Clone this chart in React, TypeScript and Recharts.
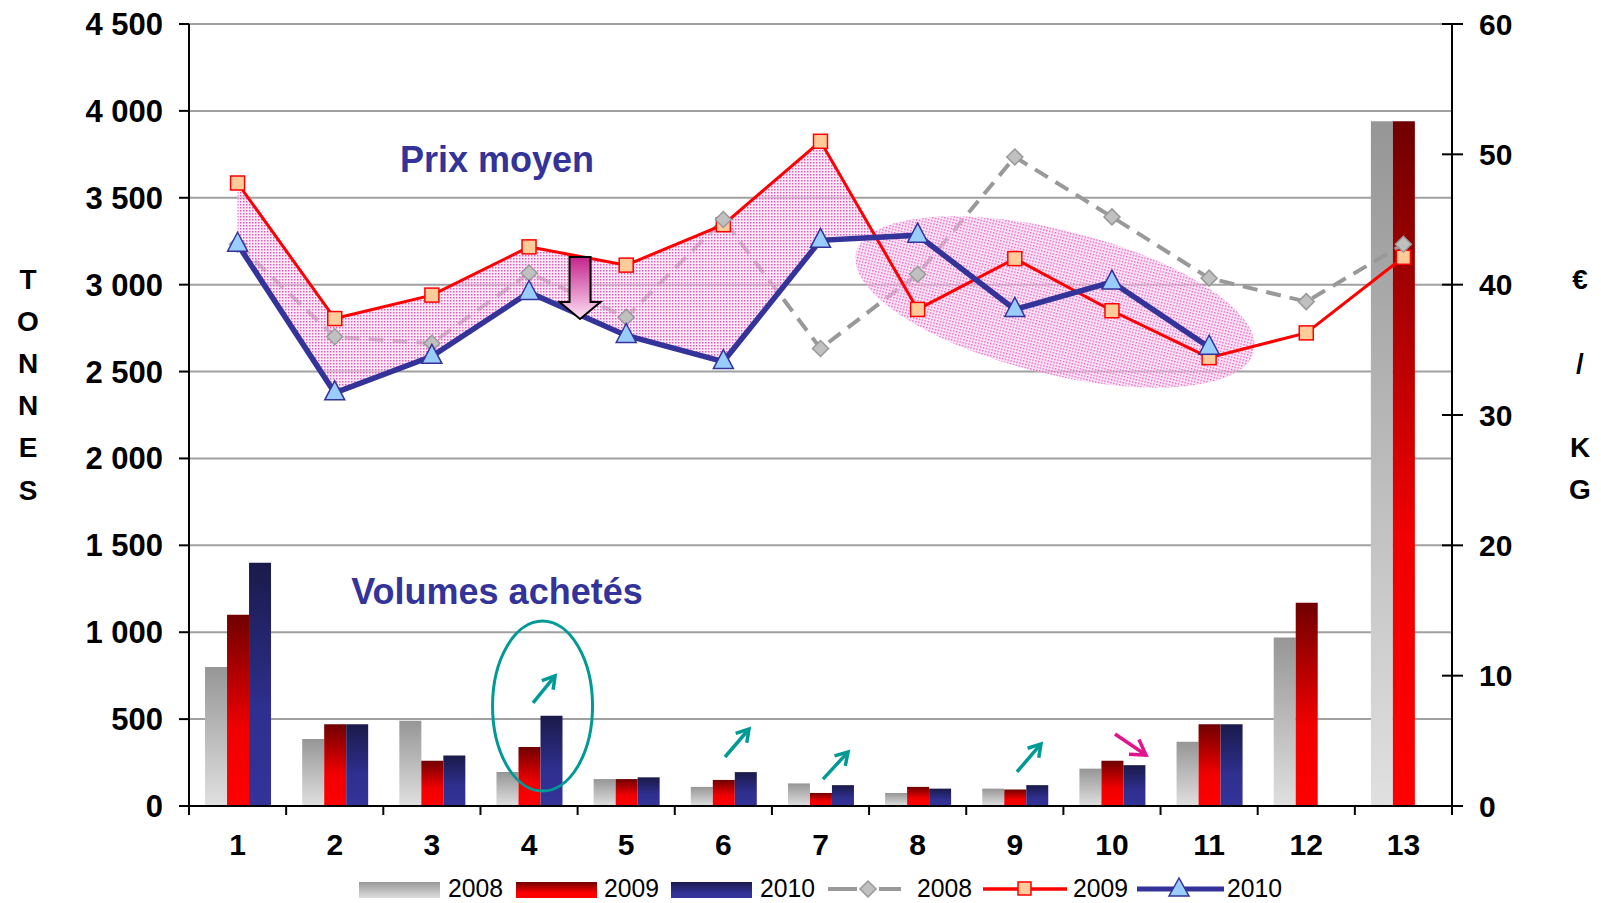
import React from "react";
import {
  ComposedChart,
  Bar,
  Line,
  Area,
  XAxis,
  YAxis,
  CartesianGrid,
  ReferenceDot,
} from "recharts";

const cats = ["1", "2", "3", "4", "5", "6", "7", "8", "9", "10", "11", "12", "13"];

// tonnes achetées
const vol2008 = [800, 385, 490, 195, 155, 110, 130, 75, 100, 215, 370, 970, 3940];
const vol2009 = [1100, 470, 260, 340, 155, 150, 75, 110, 95, 260, 470, 1170, 3940];
const vol2010 = [1400, 470, 290, 520, 165, 195, 120, 100, 120, 235, 470, null, null];

// prix moyen €/kg
const price2008 = [43.1, 36.0, 35.5, 40.9, 37.5, 45.0, 35.1, 40.8, 49.8, 45.2, 40.5, 38.7, 43.1];
const price2009 = [47.8, 37.4, 39.2, 42.9, 41.5, 44.6, 51.0, 38.1, 42.0, 38.0, 34.4, 36.3, 42.1];
const price2010 = [43.1, 31.7, 34.5, 39.4, 36.1, 34.1, 43.4, 43.8, 38.1, 40.2, 35.2, null, null];

const tonneTicks = [0, 500, 1000, 1500, 2000, 2500, 3000, 3500, 4000, 4500];
const euroTicks = [0, 10, 20, 30, 40, 50, 60];
const xTicks = [0.5, ...cats.flatMap((_, i) => [i + 1, i + 1.5])];

const rows = cats.map((c, i) => ({
  cat: c,
  x: i + 1,
  v2008: vol2008[i],
  v2009: vol2009[i],
  v2010: vol2010[i],
  p2008: price2008[i],
  p2009: price2009[i],
  p2010: price2010[i],
}));

// shaded band between 2009 and 2010 prices, up to where they cross after cat 7
const bandRows: { x: number; band: number[] }[] = cats
  .slice(0, 7)
  .map((_, i) => ({ x: i + 1, band: [price2010[i] as number, price2009[i]] }));
{
  const d7 = price2009[6] - (price2010[6] as number);
  const d8 = price2009[7] - (price2010[7] as number);
  const t = d7 / (d7 - d8);
  const yc = (price2010[6] as number) + t * ((price2010[7] as number) - (price2010[6] as number));
  bandRows.push({ x: 7 + t, band: [yc, yc] });
}

const FONT = "'Liberation Sans', Arial, Helvetica, sans-serif";
const NAVY = "#333399";
const TEAL = "#009a96";
const MAGENTA = "#e0158c";

const fmtTonnes = (v: number) =>
  v >= 1000 ? `${Math.floor(v / 1000)} ${String(v % 1000).padStart(3, "0")}` : String(v);

function XTick(props: any) {
  const { x, y, payload } = props;
  const v = payload.value as number;
  if (v % 1 !== 0) {
    return <line x1={x} y1={y} x2={x} y2={y + 9} stroke="#000" strokeWidth={2} />;
  }
  return (
    <text
      x={x}
      y={y + 38}
      textAnchor="middle"
      dominantBaseline="central"
      fontFamily={FONT}
      fontWeight="bold"
      fontSize={30}
      fill="#000"
    >
      {v}
    </text>
  );
}

function RightTick(props: any) {
  const { x, y, payload } = props;
  return (
    <g>
      <line x1={x - 10} y1={y} x2={x + 11} y2={y} stroke="#000" strokeWidth={2} />
      <text
        x={x + 27}
        y={y}
        textAnchor="start"
        dominantBaseline="central"
        fontFamily={FONT}
        fontWeight="bold"
        fontSize={30}
        fill="#000"
      >
        {payload.value}
      </text>
    </g>
  );
}

function SquareDot(p: any) {
  if (p.cy == null || p.value == null) return <g key={`s${p.index}`} />;
  return (
    <rect
      key={`s${p.index}`}
      x={p.cx - 7}
      y={p.cy - 7}
      width={14}
      height={14}
      fill="#ffcc99"
      stroke="#ff0000"
      strokeWidth={1.5}
    />
  );
}

function TriDot(p: any) {
  if (p.cy == null || p.value == null) return <g key={`t${p.index}`} />;
  const { cx, cy } = p;
  return (
    <polygon
      key={`t${p.index}`}
      points={`${cx},${cy - 12} ${cx - 10},${cy + 7} ${cx + 10},${cy + 7}`}
      fill="#99ccff"
      stroke={NAVY}
      strokeWidth={1.5}
    />
  );
}

function DiamondDot(p: any) {
  if (p.cy == null || p.value == null) return <g key={`d${p.index}`} />;
  const { cx, cy } = p;
  return (
    <polygon
      key={`d${p.index}`}
      points={`${cx},${cy - 8} ${cx + 8},${cy} ${cx},${cy + 8} ${cx - 8},${cy}`}
      fill="#c0c0c0"
      stroke="#999999"
      strokeWidth={1.5}
    />
  );
}

function arrowShape(dx: number, dy: number, color: string, head: number) {
  return (p: any) => {
    const { cx, cy } = p;
    const tx = cx + dx;
    const ty = cy + dy;
    const len = Math.hypot(dx, dy);
    const ux = dx / len;
    const uy = dy / len;
    const wing = (a: number) => {
      const c = Math.cos(a);
      const s = Math.sin(a);
      return [tx - head * (ux * c - uy * s), ty - head * (ux * s + uy * c)];
    };
    const [ax, ay] = wing(0.55);
    const [bx, by] = wing(-0.55);
    return (
      <g stroke={color} strokeWidth={3.5} fill="none" strokeLinecap="butt">
        <line x1={cx} y1={cy} x2={tx} y2={ty} />
        <polyline points={`${ax},${ay} ${tx},${ty} ${bx},${by}`} />
      </g>
    );
  };
}

function textShape(label: string) {
  return (p: any) => (
    <text
      x={p.cx}
      y={p.cy}
      textAnchor="middle"
      dominantBaseline="central"
      fontFamily={FONT}
      fontWeight="bold"
      fontSize={36}
      fill={NAVY}
    >
      {label}
    </text>
  );
}

const pinkEllipse = (p: any) => (
  <ellipse
    cx={p.cx}
    cy={p.cy}
    rx={205}
    ry={72}
    transform={`rotate(14 ${p.cx} ${p.cy})`}
    fill="url(#dots)"
  />
);

const tealEllipse = (p: any) => (
  <ellipse cx={p.cx} cy={p.cy} rx={50} ry={85} fill="none" stroke={TEAL} strokeWidth={3} />
);

const downArrow = (p: any) => {
  const { cx, cy } = p;
  const pts = [
    [cx - 10.5, cy],
    [cx + 10.5, cy],
    [cx + 10.5, cy + 45],
    [cx + 20.5, cy + 45],
    [cx, cy + 62],
    [cx - 20.5, cy + 45],
    [cx - 10.5, cy + 45],
  ]
    .map((q) => q.join(","))
    .join(" ");
  return <polygon points={pts} fill="url(#garrow)" stroke="#000" strokeWidth={2} />;
};

function Legend() {
  const txt = (x: number, s: string) => (
    <text
      x={x}
      y={897}
      fontFamily={FONT}
      fontSize={26}
      fill="#000"
      textLength={55}
      lengthAdjust="spacingAndGlyphs"
    >
      {s}
    </text>
  );
  return (
    <g>
      <defs>
        <linearGradient id="lg08" x1="0" y1="0" x2="0" y2="1">
          <stop offset="0%" stopColor="#999999" />
          <stop offset="100%" stopColor="#dddddd" />
        </linearGradient>
        <linearGradient id="lg09" x1="0" y1="0" x2="0" y2="1">
          <stop offset="0%" stopColor="#700000" />
          <stop offset="70%" stopColor="#ff0000" />
          <stop offset="100%" stopColor="#ff0000" />
        </linearGradient>
        <linearGradient id="lg10" x1="0" y1="0" x2="0" y2="1">
          <stop offset="0%" stopColor="#1a1a4a" />
          <stop offset="70%" stopColor="#333399" />
          <stop offset="100%" stopColor="#333399" />
        </linearGradient>
      </defs>
      <rect x={359} y={882} width={81} height={16} fill="url(#lg08)" />
      {txt(448, "2008")}
      <rect x={516} y={882} width={81} height={16} fill="url(#lg09)" />
      {txt(604, "2009")}
      <rect x={671} y={882} width={81} height={16} fill="url(#lg10)" />
      {txt(760, "2010")}

      <line x1={828} y1={889} x2={857} y2={889} stroke="#999999" strokeWidth={4} />
      <line x1={879} y1={889} x2={901} y2={889} stroke="#999999" strokeWidth={4} />
      <polygon points="868,881 876,889 868,897 860,889" fill="#c0c0c0" stroke="#999999" strokeWidth={1.5} />
      {txt(917, "2008")}

      <line x1={983} y1={889} x2={1067} y2={889} stroke="#ff0000" strokeWidth={3.5} />
      <rect x={1018} y={882} width={13} height={13} fill="#ffcc99" stroke="#ff0000" strokeWidth={1.5} />
      {txt(1073, "2009")}

      <line x1={1137} y1={889} x2={1224} y2={889} stroke={NAVY} strokeWidth={5} />
      <polygon points="1179,878 1169,896 1189,896" fill="#99ccff" stroke={NAVY} strokeWidth={1.5} />
      {txt(1227, "2010")}
    </g>
  );
}

function AxisTitles() {
  const left = ["T", "O", "N", "N", "E", "S"];
  const right = ["€", "", "/", "", "K", "G"];
  const style = { fontFamily: FONT, fontWeight: "bold" as const, fontSize: 28, fill: "#000" };
  return (
    <g>
      {left.map((c, i) => (
        <text key={`l${i}`} x={28} y={279 + i * 42.2} textAnchor="middle" dominantBaseline="central" {...style}>
          {c}
        </text>
      ))}
      {right.map((c, i) => (
        <text key={`r${i}`} x={1580} y={279 + i * 42} textAnchor="middle" dominantBaseline="central" {...style}>
          {c}
        </text>
      ))}
    </g>
  );
}

export default function App() {
  const W = 1601;
  const H = 903;
  return (
    <div style={{ position: "absolute", left: 0, top: 0, width: W, height: H, background: "#fff", overflow: "hidden" }}>
      <ComposedChart
        width={W}
        height={H}
        data={rows}
        margin={{ top: 24, right: 0, bottom: 0, left: 69 }}
        barCategoryGap="16.5%"
        barGap={0}
      >
        <defs>
          <linearGradient id="g08" x1="0" y1="0" x2="0" y2="1">
            <stop offset="0%" stopColor="#969696" />
            <stop offset="100%" stopColor="#e0e0e0" />
          </linearGradient>
          <linearGradient id="g09" x1="0" y1="0" x2="0" y2="1">
            <stop offset="0%" stopColor="#700000" />
            <stop offset="60%" stopColor="#f00000" />
            <stop offset="100%" stopColor="#ff0000" />
          </linearGradient>
          <linearGradient id="g10" x1="0" y1="0" x2="0" y2="1">
            <stop offset="0%" stopColor="#1a1a4a" />
            <stop offset="60%" stopColor="#2f2f8f" />
            <stop offset="100%" stopColor="#333399" />
          </linearGradient>
          <linearGradient id="garrow" x1="0" y1="0" x2="0" y2="1">
            <stop offset="0%" stopColor="#c4248c" />
            <stop offset="100%" stopColor="#fde2f5" />
          </linearGradient>
          <pattern id="dots" width="3" height="3" patternUnits="userSpaceOnUse">
            <rect width="3" height="3" fill="#fbdcf2" fillOpacity={0.55} />
            <rect width="1.5" height="1.5" fill="#e458c2" />
          </pattern>
        </defs>

        <CartesianGrid yAxisId="l" vertical={false} stroke="#a0a0a0" strokeWidth={2} zIndex={-100} />

        <XAxis
          xAxisId="num"
          dataKey="x"
          type="number"
          domain={[0.5, 13.5]}
          ticks={xTicks}
          interval={0}
          allowDataOverflow
          height={97}
          tickLine={false}
          tickSize={0}
          tickMargin={0}
          axisLine={{ stroke: "#000", strokeWidth: 2 }}
          tick={<XTick />}
        />
        <XAxis dataKey="cat" hide height={0} />
        <YAxis
          yAxisId="l"
          domain={[0, 4500]}
          ticks={tonneTicks}
          interval={0}
          width={120}
          tickSize={10}
          tickMargin={16}
          tickFormatter={fmtTonnes}
          axisLine={{ stroke: "#000", strokeWidth: 2 }}
          tickLine={{ stroke: "#000", strokeWidth: 2 }}
          tick={{ fontFamily: FONT, fontWeight: "bold", fontSize: 31, fill: "#000" }}
        />
        <YAxis
          yAxisId="r"
          orientation="right"
          domain={[0, 60]}
          ticks={euroTicks}
          interval={0}
          width={149}
          tickSize={0}
          tickMargin={0}
          tickLine={false}
          axisLine={{ stroke: "#000", strokeWidth: 2 }}
          tick={<RightTick />}
        />

        <Bar yAxisId="l" dataKey="v2008" fill="url(#g08)" isAnimationActive={false} zIndex={50} />
        <Bar yAxisId="l" dataKey="v2009" fill="url(#g09)" isAnimationActive={false} zIndex={50} />
        <Bar yAxisId="l" dataKey="v2010" fill="url(#g10)" isAnimationActive={false} zIndex={50} />

        <Line
          yAxisId="r"
          type="linear"
          dataKey="p2008"
          stroke="#999999"
          strokeWidth={4}
          strokeDasharray="15 9"
          dot={DiamondDot}
          activeDot={false}
          isAnimationActive={false}
          zIndex={90}
        />

        <Area
          xAxisId="num"
          yAxisId="r"
          data={bandRows}
          dataKey="band"
          type="linear"
          stroke="none"
          fill="url(#dots)"
          fillOpacity={1}
          dot={false}
          activeDot={false}
          isAnimationActive={false}
          zIndex={100}
        />

        <ReferenceDot xAxisId="num" yAxisId="r" x={9.414} y={38.67} r={1} shape={pinkEllipse} zIndex={110} />

        <Line
          yAxisId="r"
          type="linear"
          dataKey="p2009"
          stroke="#ff0000"
          strokeWidth={3}
          dot={SquareDot}
          activeDot={false}
          isAnimationActive={false}
          zIndex={400}
        />
        <Line
          yAxisId="r"
          type="linear"
          dataKey="p2010"
          stroke={NAVY}
          strokeWidth={5.5}
          dot={TriDot}
          activeDot={false}
          isAnimationActive={false}
          zIndex={410}
        />

        <ReferenceDot xAxisId="num" yAxisId="r" x={4.525} y={42.12} r={1} shape={downArrow} zIndex={600} />
        <ReferenceDot xAxisId="num" yAxisId="r" x={3.67} y={49.64} r={1} shape={textShape("Prix moyen")} zIndex={600} />
        <ReferenceDot xAxisId="num" yAxisId="l" x={3.67} y={1237} r={1} shape={textShape("Volumes achetés")} zIndex={600} />
        <ReferenceDot xAxisId="num" yAxisId="l" x={4.139} y={575} r={1} shape={tealEllipse} zIndex={600} />
        <ReferenceDot xAxisId="num" yAxisId="l" x={4.041} y={593} r={1} shape={arrowShape(22, -27, TEAL, 14)} zIndex={600} />
        <ReferenceDot xAxisId="num" yAxisId="l" x={6.017} y={282} r={1} shape={arrowShape(24, -28, TEAL, 14)} zIndex={600} />
        <ReferenceDot xAxisId="num" yAxisId="l" x={7.026} y={155} r={1} shape={arrowShape(25, -27, TEAL, 14)} zIndex={600} />
        <ReferenceDot xAxisId="num" yAxisId="l" x={9.022} y={196} r={1} shape={arrowShape(24, -28, TEAL, 14)} zIndex={600} />
        <ReferenceDot xAxisId="num" yAxisId="l" x={10.031} y={414} r={1} shape={arrowShape(31, 21, MAGENTA, 17)} zIndex={600} />
      </ComposedChart>
      <svg
        width={W}
        height={H}
        style={{ position: "absolute", left: 0, top: 0, pointerEvents: "none" }}
      >
        <AxisTitles />
        <Legend />
      </svg>
    </div>
  );
}
